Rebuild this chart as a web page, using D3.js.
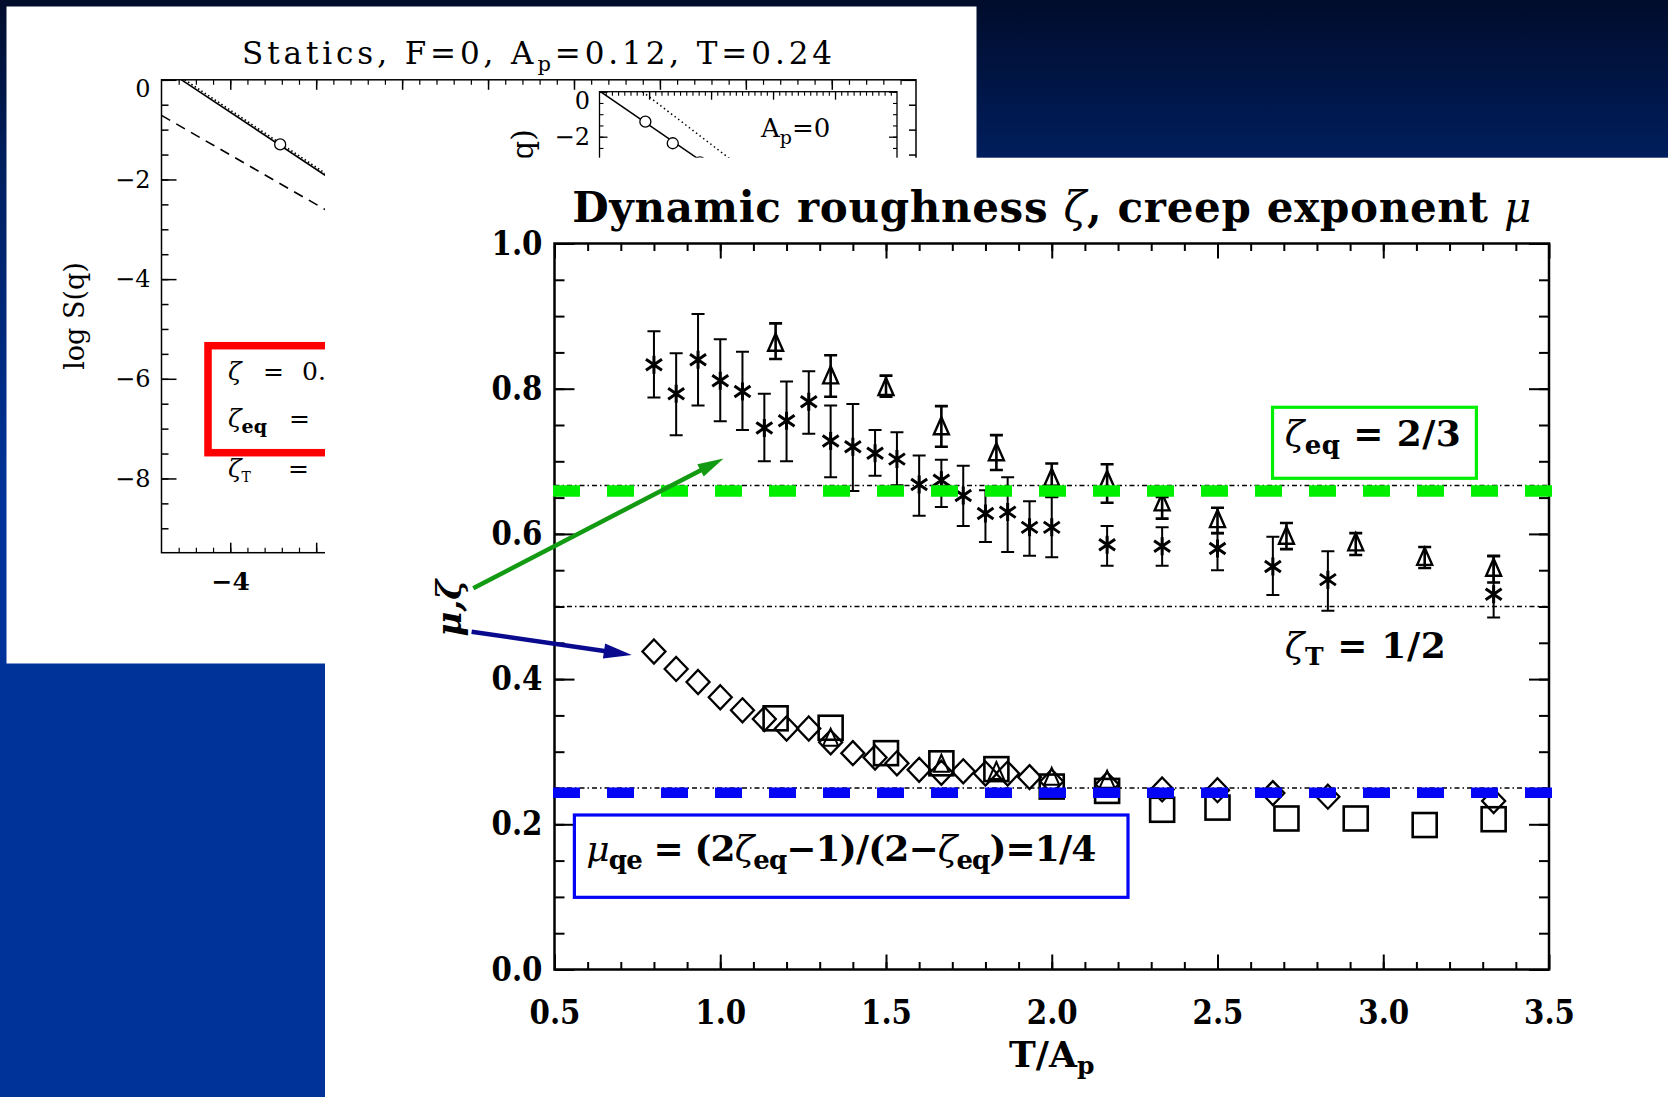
<!DOCTYPE html>
<html><head><meta charset="utf-8">
<script src="https://cdn.jsdelivr.net/npm/d3@7"></script>
<style>html,body{margin:0;padding:0;background:#003399;overflow:hidden}</style>
</head><body>
<svg id="c" width="1668" height="1097"></svg>
<script>
// ---------------- DATA ----------------
// zeta, series 1 (asterisks) with error bars
const starX  = [0.800,0.867,0.933,1.000,1.067,1.133,1.200,1.267,1.333,1.400,1.467,1.533,1.600,1.667,1.733,1.800,1.867,1.933,2.000,2.167,2.333,2.500,2.667,2.833,3.333];
const starY  = [0.833,0.793,0.840,0.811,0.796,0.746,0.756,0.782,0.728,0.720,0.711,0.703,0.668,0.674,0.653,0.628,0.630,0.609,0.609,0.585,0.583,0.580,0.555,0.537,0.517];
const starHi = [0.879,0.849,0.903,0.868,0.851,0.793,0.810,0.824,0.777,0.779,0.743,0.740,0.708,0.702,0.694,0.660,0.678,0.645,0.651,0.611,0.609,0.601,0.596,0.576,0.569];
const starLo = [0.788,0.736,0.777,0.755,0.743,0.700,0.700,0.738,0.678,0.659,0.680,0.667,0.625,0.637,0.611,0.589,0.575,0.570,0.568,0.556,0.556,0.550,0.516,0.494,0.485];
// mu, series 1 (diamonds), same x as asterisks
const diamondY = [0.438,0.414,0.396,0.375,0.357,0.345,0.332,0.332,0.313,0.298,0.292,0.284,0.275,0.271,0.273,0.270,0.270,0.265,0.259,0.255,0.248,0.247,0.243,0.238,0.232];
// zeta, series 2 (triangles) with error bars
const triX  = [1.167,1.333,1.500,1.667,1.833,2.000,2.167,2.333,2.500,2.708,2.917,3.125,3.333];
const triY  = [0.862,0.817,0.801,0.747,0.711,0.676,0.673,0.642,0.619,0.596,0.587,0.567,0.552];
const triHi = [0.890,0.846,0.818,0.776,0.736,0.697,0.696,0.651,0.636,0.615,0.601,0.582,0.570];
const triLo = [0.841,0.789,0.789,0.720,0.688,0.651,0.643,0.621,0.601,0.579,0.571,0.553,0.533];
// mu, series 2 (squares), same x as triangles
const squareY = [0.346,0.333,0.298,0.284,0.276,0.252,0.246,0.220,0.223,0.208,0.208,0.199,0.207];
// small triangles at the mu level
const muTriX = [1.333,1.667,1.833,2.000,2.167];
const muTriY = [0.318,0.282,0.272,0.264,0.260];
// reference levels
const refLevels = [2/3, 1/2, 1/4];
const greenLevel = 0.659;   // thick green dashed overlay
const blueLevel  = 0.2435;  // thick blue dashed overlay
// ticks
const xTicks = [0.5,1.0,1.5,2.0,2.5,3.0,3.5];
const yTicks = [0.0,0.2,0.4,0.6,0.8,1.0];
// background "Statics" plot
const stYTicks = [0,-2,-4,-6,-8];
const stXTicks = [-4,-3,-2,-1,0,1,2,3];
const stXLabels = [-4];
const stSolid  = [[-4.567,0],[-1.6,-3.40]];
const stDotted = [[-4.53,0],[-1.6,-3.36]];
const stDashed = [[-4.8,-0.714],[-1.6,-3.89]];
const stCircle = [[-3.419,-1.296]];
const inSolid  = [[-4.785,0],[-1.6,-6.03]];
const inDotted = [[-4.107,0],[-1.6,-5.3]];
const inCircles = [[-4.06,-1.33],[-3.618,-2.29],[-3.18,-3.14]];
const inYTicks = [0,-2,-4,-6,-8];
const inYLabels = [0,-2];

// ---------------- DRAWING ----------------
const W = 1668, H = 1097;
const FONT = "'DejaVu Serif','Liberation Serif',serif";
const svg = d3.select('#c');
const defs = svg.append('defs');
const grad = defs.append('linearGradient').attr('id','bg').attr('x1',0).attr('y1',0).attr('x2',0).attr('y2',1);
[[0,'#010c2b'],[0.15,'#001f5f'],[0.45,'#003399'],[1,'#003399']].forEach(s=>grad.append('stop').attr('offset',s[0]).attr('stop-color',s[1]));
svg.append('rect').attr('width',W).attr('height',H).attr('fill','url(#bg)');

function rich(g, x, y, parts, attrs){
  const t = g.append('text').attr('x',x).attr('y',y).attr('font-family',FONT);
  for (const k in attrs) t.attr(k, attrs[k]);
  let shift = 0;
  parts.forEach(p=>{
    const s = t.append('tspan').text(p.t);
    const want = p.sub || 0;
    if (want !== shift){ s.attr('dy', want - shift); shift = want; }
    if (p.x !== undefined) s.attr('x', p.x);
    if (p.size) s.attr('font-size', p.size);
    if (p.it) s.attr('font-style','italic');
    if (p.w) s.attr('font-weight', p.w);
  });
  return t;
}
function styleAxis(g, sw){
  g.select('.domain').remove();
  g.selectAll('line').attr('stroke','#000').attr('stroke-width',sw);
}

// ===== background "Statics" panel =====
const sp = svg.append('g');
sp.append('rect').attr('x',6.5).attr('y',6.5).attr('width',970).attr('height',657).attr('fill','#fff');
const sx = d3.scaleLinear().domain([-4.8,3.98]).range([161.5,916]);
const sy = d3.scaleLinear().domain([-9.49,0]).range([552.7,79.8]);
sp.append('rect').attr('x',sx(-4.8)).attr('y',sy(0)).attr('width',sx(3.98)-sx(-4.8)).attr('height',sy(-9.49)-sy(0))
  .attr('fill','none').attr('stroke','#000').attr('stroke-width',1.5);
let a;
a = sp.append('g').attr('transform',`translate(${sx(-4.8)},0)`)
  .call(d3.axisLeft(sy).tickValues(stYTicks).tickSize(-15).tickSizeOuter(0).tickPadding(11).tickFormat(d3.format('d')));
styleAxis(a,1.5);
a.selectAll('text').attr('font-family',FONT).attr('font-size',24).attr('fill','#000');
a.selectAll('.tick').filter(d=>d===0).select('text').attr('y',9);
a = sp.append('g').attr('transform',`translate(${sx(-4.8)},0)`)
  .call(d3.axisLeft(sy).tickValues(d3.range(-9,0.01,0.5)).tickSize(-7).tickSizeOuter(0).tickFormat(''));
styleAxis(a,1.5);
a = sp.append('g').attr('transform',`translate(${sx(3.98)},0)`)
  .call(d3.axisRight(sy).tickValues(stYTicks).tickSize(-15).tickSizeOuter(0).tickFormat(''));
styleAxis(a,1.5);
a = sp.append('g').attr('transform',`translate(${sx(3.98)},0)`)
  .call(d3.axisRight(sy).tickValues(d3.range(-9,0.01,0.5)).tickSize(-7).tickSizeOuter(0).tickFormat(''));
styleAxis(a,1.5);
a = sp.append('g').attr('transform',`translate(0,${sy(-9.49)})`)
  .call(d3.axisBottom(sx).tickValues(stXTicks).tickSize(-10).tickSizeOuter(0).tickPadding(20)
    .tickFormat(d=>stXLabels.includes(d)?d3.format('d')(d):''));
styleAxis(a,1.5);
a.selectAll('text').attr('font-family',FONT).attr('font-size',25).attr('font-weight','bold').attr('fill','#000');
a.selectAll('text').filter(function(){return this.textContent==='';}).remove();
a = sp.append('g').attr('transform',`translate(0,${sy(-9.49)})`)
  .call(d3.axisBottom(sx).tickValues(d3.range(-4.6,3.9,0.2)).tickSize(-5).tickSizeOuter(0).tickFormat(''));
styleAxis(a,1.2);
a = sp.append('g').attr('transform',`translate(0,${sy(0)})`)
  .call(d3.axisTop(sx).tickValues(stXTicks).tickSize(-10).tickSizeOuter(0).tickFormat(''));
styleAxis(a,1.5);
a = sp.append('g').attr('transform',`translate(0,${sy(0)})`)
  .call(d3.axisTop(sx).tickValues(d3.range(-4.6,3.9,0.2)).tickSize(-5).tickSizeOuter(0).tickFormat(''));
styleAxis(a,1.2);
const sline = d3.line().x(d=>sx(d[0])).y(d=>sy(d[1]));
const sclip = defs.append('clipPath').attr('id','sclip');
sclip.append('rect').attr('x',sx(-4.8)).attr('y',sy(0)).attr('width',sx(3.98)-sx(-4.8)).attr('height',sy(-9.49)-sy(0));
const sg = sp.append('g').attr('clip-path','url(#sclip)');
sg.append('path').attr('d',sline(stDotted)).attr('fill','none').attr('stroke','#000').attr('stroke-width',1.6).attr('stroke-dasharray','1.5,2.5');
sg.append('path').attr('d',sline(stSolid)).attr('fill','none').attr('stroke','#000').attr('stroke-width',1.6);
sg.append('path').attr('d',sline(stDashed)).attr('fill','none').attr('stroke','#000').attr('stroke-width',1.6).attr('stroke-dasharray','10,7');
sg.selectAll('circle.sc').data(stCircle).join('circle').attr('cx',d=>sx(d[0])).attr('cy',d=>sy(d[1])).attr('r',5.5)
  .attr('fill','#fff').attr('stroke','#000').attr('stroke-width',1.3);
rich(sp, 537, 64, [{t:'Statics, F=0, A'},{t:'p',sub:7,size:21},{t:'=0.12, T=0.24',sub:0}],
  {'font-size':31,'text-anchor':'middle','textLength':590,'lengthAdjust':'spacing'});
sp.append('text').attr('transform','translate(84,316) rotate(-90)').attr('text-anchor','middle')
  .attr('font-family',FONT).attr('font-size',27).text('log S(q)');
sp.append('rect').attr('x',208).attr('y',345.7).attr('width',500).attr('height',107)
  .attr('fill','none').attr('stroke','#ff0000').attr('stroke-width',7.5);
rich(sp, 228, 380, [{t:'ζ',it:true},{t:'=',x:263},{t:'0.',x:302}], {'font-size':25});
rich(sp, 228, 426.7, [{t:'ζ',it:true},{t:'eq',sub:6,size:19,w:'bold'},{t:'=',x:289,sub:0}], {'font-size':25});
rich(sp, 228, 476.7, [{t:'ζ',it:true},{t:'T',sub:5,size:14},{t:'=',x:288,sub:0}], {'font-size':25});
// inset
const ix = d3.scaleLinear().domain([-4.8,0]).range([599.5,897]);
const iy = d3.scaleLinear().domain([-10,0]).range([316.7,91.7]);
const ig = sp.append('g');
ig.append('rect').attr('x',ix(-4.8)).attr('y',iy(0)).attr('width',ix(0)-ix(-4.8)).attr('height',iy(-10)-iy(0))
  .attr('fill','#fff').attr('stroke','#000').attr('stroke-width',1.3);
a = ig.append('g').attr('transform',`translate(${ix(-4.8)},0)`)
  .call(d3.axisLeft(iy).tickValues(inYTicks).tickSize(-8).tickSizeOuter(0).tickPadding(9.5)
    .tickFormat(d=>inYLabels.includes(d)?d3.format('d')(d):''));
styleAxis(a,1.3);
a.selectAll('text').attr('font-family',FONT).attr('font-size',24).attr('fill','#000');
a.selectAll('text').filter(function(){return this.textContent==='';}).remove();
a.selectAll('.tick').filter(d=>d===0).select('text').attr('y',9);
a = ig.append('g').attr('transform',`translate(${ix(-4.8)},0)`)
  .call(d3.axisLeft(iy).tickValues(d3.range(-10,0.01,0.5)).tickSize(-4).tickSizeOuter(0).tickFormat(''));
styleAxis(a,1.1);
a = ig.append('g').attr('transform',`translate(${ix(0)},0)`)
  .call(d3.axisRight(iy).tickValues(inYTicks).tickSize(-8).tickSizeOuter(0).tickFormat(''));
styleAxis(a,1.3);
a = ig.append('g').attr('transform',`translate(${ix(0)},0)`)
  .call(d3.axisRight(iy).tickValues(d3.range(-10,0.01,0.5)).tickSize(-4).tickSizeOuter(0).tickFormat(''));
styleAxis(a,1.1);
a = ig.append('g').attr('transform',`translate(0,${iy(0)})`)
  .call(d3.axisTop(ix).tickValues(d3.range(-4.7,-0.05,0.1)).tickSize(-4).tickSizeOuter(0).tickFormat(''));
styleAxis(a,1.1);
a = ig.append('g').attr('transform',`translate(0,${iy(0)})`)
  .call(d3.axisTop(ix).tickValues([-4,-3,-2,-1]).tickSize(-8).tickSizeOuter(0).tickFormat(''));
styleAxis(a,1.3);
const iline = d3.line().x(d=>ix(d[0])).y(d=>iy(d[1]));
ig.append('path').attr('d',iline(inDotted)).attr('fill','none').attr('stroke','#000').attr('stroke-width',1.5).attr('stroke-dasharray','1.5,3');
ig.append('path').attr('d',iline(inSolid)).attr('fill','none').attr('stroke','#000').attr('stroke-width',1.6);
ig.selectAll('circle').data(inCircles).join('circle').attr('cx',d=>ix(d[0])).attr('cy',d=>iy(d[1])).attr('r',5.5)
  .attr('fill','#fff').attr('stroke','#000').attr('stroke-width',1.3);
rich(ig, 761, 137, [{t:'A'},{t:'p',sub:7,size:19},{t:'=0',sub:0}], {'font-size':26});
// inset y label: only its end "q)" shows above the front panel
const lclip = defs.append('clipPath').attr('id','lclip');
lclip.append('rect').attr('x',480).attr('y',90).attr('width',80).attr('height',67.7);
ig.append('g').attr('clip-path','url(#lclip)')
  .append('text').attr('transform','translate(533,129) rotate(-90)').attr('text-anchor','end')
  .attr('font-family',FONT).attr('font-size',30).text('log S(q)');

// ===== main panel =====
svg.append('rect').attr('x',325).attr('y',157.7).attr('width',W-325).attr('height',H-157.7).attr('fill','#fff');
const mg = svg.append('g');
const x = d3.scaleLinear().domain([0.5,3.5]).range([554.5,1549]);
const y = d3.scaleLinear().domain([0,1]).range([969.5,243.5]);

const minorX = d3.range(0.6,3.45,0.1), minorY = d3.range(0.05,0.99,0.05);
a = mg.append('g').attr('transform',`translate(0,${y(0)})`)
  .call(d3.axisBottom(x).tickValues(xTicks).tickSize(-15).tickSizeOuter(0).tickPadding(31).tickFormat(d3.format('.1f')));
styleAxis(a,2);
a.selectAll('text').attr('font-family',FONT).attr('font-size',33).attr('font-weight','bold').attr('fill','#000')
  .attr('textLength',51).attr('lengthAdjust','spacingAndGlyphs');
a = mg.append('g').attr('transform',`translate(0,${y(0)})`)
  .call(d3.axisBottom(x).tickValues(minorX).tickSize(-7.5).tickSizeOuter(0).tickFormat(''));
styleAxis(a,2);
a = mg.append('g').attr('transform',`translate(0,${y(1)})`)
  .call(d3.axisTop(x).tickValues(xTicks).tickSize(-15).tickSizeOuter(0).tickFormat(''));
styleAxis(a,2);
a = mg.append('g').attr('transform',`translate(0,${y(1)})`)
  .call(d3.axisTop(x).tickValues(minorX).tickSize(-7.5).tickSizeOuter(0).tickFormat(''));
styleAxis(a,2);
a = mg.append('g').attr('transform',`translate(${x(0.5)},0)`)
  .call(d3.axisLeft(y).tickValues(yTicks).tickSize(-20).tickSizeOuter(0).tickPadding(12).tickFormat(d3.format('.1f')));
styleAxis(a,2);
a.selectAll('text').attr('font-family',FONT).attr('font-size',33).attr('font-weight','bold').attr('fill','#000')
  .attr('textLength',51).attr('lengthAdjust','spacingAndGlyphs');
a = mg.append('g').attr('transform',`translate(${x(0.5)},0)`)
  .call(d3.axisLeft(y).tickValues(minorY).tickSize(-10).tickSizeOuter(0).tickFormat(''));
styleAxis(a,2);
a = mg.append('g').attr('transform',`translate(${x(3.5)},0)`)
  .call(d3.axisRight(y).tickValues(yTicks).tickSize(-20).tickSizeOuter(0).tickFormat(''));
styleAxis(a,2);
a = mg.append('g').attr('transform',`translate(${x(3.5)},0)`)
  .call(d3.axisRight(y).tickValues(minorY).tickSize(-10).tickSizeOuter(0).tickFormat(''));
styleAxis(a,2);
mg.append('rect').attr('x',x(0.5)).attr('y',y(1)).attr('width',x(3.5)-x(0.5)).attr('height',y(0)-y(1))
  .attr('fill','none').attr('stroke','#000').attr('stroke-width',2.5);

rich(mg, (x(0.5)+x(3.5))/2, 221.7, [{t:'Dynamic roughness '},{t:'ζ',it:true,w:'normal'},{t:', creep exponent '},{t:'μ',it:true,w:'normal'}],
  {'font-size':42,'font-weight':'bold','text-anchor':'middle','textLength':959,'lengthAdjust':'spacing'});
rich(mg, x(2.0), 1067, [{t:'T/A'},{t:'p',sub:7,size:25}], {'font-size':36,'font-weight':'bold','text-anchor':'middle'});
mg.append('text').attr('transform',`translate(${x(0.5)-94},${y(0.498)}) rotate(-90)`).attr('text-anchor','middle')
  .attr('font-family',FONT).attr('font-size',34).attr('font-weight','bold').attr('font-style','italic').text('μ,ζ');

mg.selectAll('line.ref').data(refLevels).join('line').attr('class','ref')
  .attr('x1',x(0.5)).attr('x2',x(3.5)).attr('y1',d=>y(d)).attr('y2',d=>y(d))
  .attr('stroke','#000').attr('stroke-width',1.3).attr('stroke-dasharray','5,3,1.5,3');

function errBars(xs, ys, hi, lo, sw){
  const eg = mg.append('g').attr('stroke','#000').attr('stroke-width',sw).attr('fill','none');
  const d = xs.map((v,i)=>({x:v,hi:hi[i],lo:lo[i]}));
  eg.selectAll('path').data(d).join('path').attr('d',p=>{
    const X=x(p.x), Y1=y(p.hi), Y2=y(p.lo), c=6.5;
    return `M${X},${Y1}V${Y2}M${X-c},${Y1}H${X+c}M${X-c},${Y2}H${X+c}`;
  });
}
errBars(starX, starY, starHi, starLo, 2);
errBars(triX, triY, triHi, triLo, 2.6);

const starPath = 'M0,-9V9M-8,-5.5L8,5.5M-8,5.5L8,-5.5';
mg.append('g').selectAll('path').data(starX.map((v,i)=>[v,starY[i]])).join('path')
  .attr('transform',d=>`translate(${x(d[0])},${y(d[1])})`).attr('d',starPath)
  .attr('stroke','#000').attr('stroke-width',3).attr('fill','none');
const triPath = 'M0,-10L7.5,7L-7.5,7Z';
mg.append('g').selectAll('path').data(triX.map((v,i)=>[v,triY[i]])).join('path')
  .attr('transform',d=>`translate(${x(d[0])},${y(d[1])})`).attr('d',triPath)
  .attr('stroke','#000').attr('stroke-width',2.4).attr('fill','none');
mg.append('g').selectAll('path').data(muTriX.map((v,i)=>[v,muTriY[i]])).join('path')
  .attr('transform',d=>`translate(${x(d[0])},${y(d[1])})`).attr('d',triPath)
  .attr('stroke','#000').attr('stroke-width',2).attr('fill','none');
const diaPath = 'M0,-12L11.5,0L0,12L-11.5,0Z';
mg.append('g').selectAll('path').data(starX.map((v,i)=>[v,diamondY[i]])).join('path')
  .attr('transform',d=>`translate(${x(d[0])},${y(d[1])})`).attr('d',diaPath)
  .attr('stroke','#000').attr('stroke-width',2.3).attr('fill','none');
mg.append('g').selectAll('rect').data(triX.map((v,i)=>[v,squareY[i]])).join('rect')
  .attr('x',d=>x(d[0])-12).attr('y',d=>y(d[1])-12).attr('width',24).attr('height',24)
  .attr('stroke','#000').attr('stroke-width',2.6).attr('fill','none');

mg.append('line').attr('x1',x(0.5)-1.5).attr('x2',x(3.5)+4).attr('y1',y(greenLevel)).attr('y2',y(greenLevel))
  .attr('stroke','#00ee00').attr('stroke-width',11.5).attr('stroke-dasharray','27,27');
mg.append('line').attr('x1',x(0.5)-1.5).attr('x2',x(3.5)+4).attr('y1',y(blueLevel)).attr('y2',y(blueLevel))
  .attr('stroke','#0505f5').attr('stroke-width',10.5).attr('stroke-dasharray','27,27');

function boxAt(x0,x1,y0,y1,col){
  mg.append('rect').attr('x',x(x0)).attr('y',y(y0)).attr('width',x(x1)-x(x0)).attr('height',y(y1)-y(y0))
    .attr('fill','#fff').attr('stroke',col).attr('stroke-width',3.2);
}
boxAt(2.666,3.281,0.7744,0.6766,'#00ee00');
rich(mg, x(2.703), y(0.7204), [{t:'ζ',it:true,w:'normal'},{t:'eq',sub:8,size:26},{t:' = 2/3',sub:0}],
  {'font-size':36,'font-weight':'bold','textLength':176,'lengthAdjust':'spacing'});
boxAt(0.560,2.230,0.2128,0.0994,'#0505f5');
rich(mg, x(0.596), y(0.1488), [{t:'μ',it:true,w:'normal'},{t:'qe',sub:8,size:26},{t:' = (2',sub:0},{t:'ζ',it:true,w:'normal'},
  {t:'eq',sub:8,size:26},{t:'−1)/(2−',sub:0},{t:'ζ',it:true,w:'normal'},{t:'eq',sub:8,size:26},{t:')=1/4',sub:0}],
  {'font-size':36,'font-weight':'bold','textLength':510,'lengthAdjust':'spacing'});
rich(mg, x(2.703), y(0.4290), [{t:'ζ',it:true,w:'normal'},{t:'T',sub:7,size:25},{t:' = 1/2',sub:0}],
  {'font-size':36,'font-weight':'bold','textLength':161,'lengthAdjust':'spacing'});

function arrow(p0,p1,col,w,hl,hw){
  const X0=x(p0[0]),Y0=y(p0[1]),X1=x(p1[0]),Y1=y(p1[1]);
  const L=Math.hypot(X1-X0,Y1-Y0), ux=(X1-X0)/L, uy=(Y1-Y0)/L;
  const bx=X1-ux*hl, by=Y1-uy*hl;
  mg.append('line').attr('x1',X0).attr('y1',Y0).attr('x2',bx+ux*2).attr('y2',by+uy*2)
    .attr('stroke',col).attr('stroke-width',w);
  mg.append('path').attr('d',`M${X1},${Y1}L${bx-uy*hw},${by+ux*hw}L${bx+uy*hw},${by-ux*hw}Z`).attr('fill',col);
}
arrow([0.255,0.525],[1.010,0.704],'#139a13',4.5,26,7);
arrow([0.250,0.4653],[0.733,0.4332],'#0a0a8e',4.5,28,7.5);
</script>
</body></html>
